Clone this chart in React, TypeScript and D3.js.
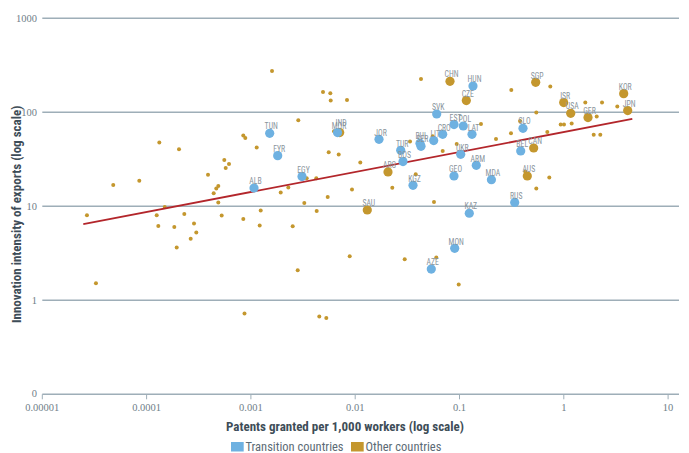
import React from 'react';
import * as d3 from 'd3';

// Transition countries (blue)
const transitionCodes = ['TUN', 'FYR', 'EGY', 'ALB', 'MOR', 'JOR', 'TUR', 'BOS', 'KGZ', 'SVK', 'BUL', 'SER', 'LIT', 'CRO', 'HUN', 'EST', 'POL', 'LAT', 'UKR', 'ARM', 'GEO', 'MDA', 'SLO', 'BEL', 'RUS', 'KAZ', 'MON', 'AZE'];
const transitionX = [0.001514, 0.001807, 0.00309, 0.001071, 0.00677, 0.01691, 0.02731, 0.02873, 0.03583, 0.06045, 0.0418, 0.04274, 0.05656, 0.069, 0.1347, 0.08857, 0.1087, 0.1318, 0.1027, 0.1449, 0.08857, 0.2023, 0.4062, 0.3862, 0.3383, 0.1241, 0.08995, 0.05364];
const transitionY = [59.8, 34.6, 20.7, 15.65, 60.8, 51.6, 39.4, 29.9, 16.7, 95.9, 46.8, 43.5, 50.0, 58.3, 190, 74.0, 71.5, 58.3, 35.7, 27.3, 21.0, 19.2, 67.6, 38.8, 11.0, 8.43, 3.57, 2.15];

// Other countries, labelled (gold)
const otherCodes = ['IND', 'ARG', 'SAU', 'CHN', 'CZE', 'SGP', 'ISR', 'USA', 'GER', 'KOR', 'JPN', 'CAN', 'AUS'];
const otherX = [0.0071, 0.02063, 0.01306, 0.08107, 0.1162, 0.5377, 0.9977, 1.165, 1.706, 3.752, 4.1, 0.5144, 0.4469];
const otherY = [60.8, 23.2, 9.13, 213.7, 133.2, 208.5, 126.9, 97.6, 87.8, 158, 104.3, 41.7, 21.0];

// Other countries, unlabelled (small gold dots)
const minorX = [2.68e-5, 3.27e-5, 4.79e-5, 8.51e-5, 1.25e-4, 1.295e-4, 1.324e-4, 1.492e-4, 1.843e-4, 1.944e-4, 2.045e-4, 2.298e-4, 2.647e-4, 2.848e-4, 2.996e-4, 3.879e-4, 4.398e-4, 4.658e-4, 4.868e-4, 4.868e-4, 5.248e-4, 5.559e-4, 5.734e-4, 6.166e-4, 8.455e-4, 8.837e-4, 8.455e-4, 8.682e-4, 1.137e-3, 1.242e-3, 1.214e-3, 1.594e-3, 1.931e-3, 2.284e-3, 2.516e-3, 2.81e-3, 2.847e-3, 3.251e-3, 3.428e-3, 4.236e-3, 4.274e-3, 4.527e-3, 4.913e-3, 5.284e-3, 5.45e-3, 5.571e-3, 5.772e-3, 5.823e-3, 6.264e-3, 6.948e-3, 8.345e-3, 8.857e-3, 9.317e-3, 0.01119, 0.02268, 0.02983, 0.03354, 0.03803, 0.04274, 0.05534, 0.05694, 0.05992, 0.069, 0.09402, 0.09825, 0.1607, 0.2239, 0.3138, 0.3117, 0.3803, 0.4274, 0.5449, 0.5449, 0.6948, 0.7261, 0.7423, 0.9339, 1.004, 1.19, 1.607, 1.935, 2.068, 2.238, 2.325, 3.258];
const minorY = [8.02, 1.52, 16.85, 18.7, 8.02, 6.17, 47.6, 9.83, 6.02, 3.64, 40.4, 8.28, 4.53, 6.55, 5.25, 21.7, 13.75, 15.43, 16.44, 10.95, 7.96, 31.1, 25.6, 28.2, 56.5, 53.3, 7.33, 0.722, 42.1, 9.0, 6.23, 275, 14.0, 15.85, 6.13, 2.085, 82.2, 10.84, 19.86, 19.86, 8.91, 0.671, 164.4, 0.648, 12.56, 37.5, 159.3, 133.2, 62.8, 35.5, 135.2, 2.94, 15.06, 29.2, 15.8, 2.73, 48.8, 21.9, 226, 55.5, 11.1, 2.85, 38.8, 46.0, 1.47, 75.1, 52.0, 172.7, 59.8, 80.8, 23.3, 99.3, 15.43, 61.7, 20.2, 187.7, 74.0, 74.0, 75.8, 126.9, 57.6, 90.0, 57.6, 126.9, 115];

// Fitted trend line end points
const trendX = [2.472e-5, 4.539];
const trendY = [6.48, 84.9];

const xTicks = [0.00001, 0.0001, 0.001, 0.01, 0.1, 1, 10];
const xTickLabels = ['0.00001', '0.0001', '0.001', '0.01', '0.1', '1', '10'];
const yTicks = [1000, 100, 10, 1];
const yTickLabels = ['1000', '100', '10', '1'];
const yBottom = 0.1;
const yBottomLabel = '0';

const legendItems = ['Transition countries', 'Other countries'];

const BLUE = '#6eb1e1';
const GOLD = '#c4972e';
const GRID = '#9eaeb8';
const LABEL = '#89949c';
const TITLE = '#3e4d58';
const COND = '"Liberation Sans Narrow", "Roboto Condensed", "Arial Narrow", Roboto, sans-serif';
const SERIF = '"Liberation Serif", "DejaVu Serif", serif';

const labelDy: Record<string, number> = { IND: -3 };

export default function App() {
  const W = 689;
  const H = 453;
  const x = d3.scaleLog().domain([1e-5, 10]).range([42.3, 668.1]);
  const y = d3.scaleLog().domain([0.1, 1000]).range([394.3, 18.3]);
  const right = 679;
  const line = d3
    .line<number>()
    .x((d) => x(trendX[d]))
    .y((d) => y(trendY[d]));

  const pts = [
    ...otherCodes.map((c, i) => ({ c, x: otherX[i], y: otherY[i], col: GOLD })),
    ...transitionCodes.map((c, i) => ({ c, x: transitionX[i], y: transitionY[i], col: BLUE })),
  ];

  return (
    <svg width={W} height={H} style={{ position: 'absolute', left: 0, top: 0, background: '#fff' }}>
      {/* grid lines */}
      {yTicks.map((t, i) => (
        <g key={'yg' + i}>
          <line x1={x(1e-5)} x2={right} y1={y(t)} y2={y(t)} stroke={GRID} strokeWidth={1.4} />
          <text x={37} y={y(t) + 3.5} textAnchor="end" fontFamily={SERIF} fontSize={10.5} fill="#6f7e88">
            {yTickLabels[i]}
          </text>
        </g>
      ))}
      {/* bottom axis */}
      <line x1={x(1e-5)} x2={right} y1={y(yBottom)} y2={y(yBottom)} stroke={GRID} strokeWidth={1.4} />
      <text x={37} y={y(yBottom) + 3} textAnchor="end" fontFamily={SERIF} fontSize={10.5} fill="#6f7e88">
        {yBottomLabel}
      </text>
      {xTicks.map((t, i) => (
        <g key={'xt' + i}>
          <line x1={x(t)} x2={x(t)} y1={y(yBottom)} y2={y(yBottom) + 5} stroke={GRID} strokeWidth={1} />
          <text x={x(t)} y={y(yBottom) + 17} textAnchor="middle" fontFamily={SERIF} fontSize={10.5} fill="#6f7e88">
            {xTickLabels[i]}
          </text>
        </g>
      ))}

      {/* minor dots */}
      {minorX.map((v, i) => (
        <circle key={'m' + i} cx={x(v)} cy={y(minorY[i])} r={2} fill={GOLD} />
      ))}

      {/* trend line */}
      <path d={line([0, 1]) || ''} fill="none" stroke="#b3262b" strokeWidth={1.8} />

      {/* labelled points */}
      {pts.map((p, i) => (
        <circle key={'p' + i} cx={x(p.x)} cy={y(p.y)} r={4.6} fill={p.col} />
      ))}
      {pts.map((p, i) => (
        <text
          key={'l' + i}
          transform={`translate(${x(p.x) + 1.5},${y(p.y) - 3.8 + (labelDy[p.c] || 0)}) scale(0.86,1)`}
          textAnchor="middle"
          fontFamily={COND}
          fontSize={9}
          fill={LABEL}
        >
          {p.c}
        </text>
      ))}

      {/* axis titles */}
      <text
        transform={`translate(21,${(y(1000) + y(0.1)) / 2 + 8}) rotate(-90)`}
        textAnchor="middle"
        fontFamily={COND}
        fontWeight="bold"
        fontSize={13}
        fill={TITLE}
      >
        Innovation intensity of exports (log scale)
      </text>
      <text x={345} y={431} textAnchor="middle" fontFamily={COND} fontWeight="bold" fontSize={13} fill={TITLE}>
        Patents granted per 1,000 workers (log scale)
      </text>

      {/* legend */}
      <rect x={231} y={442} width={12.7} height={9.5} fill={BLUE} />
      <text x={245.5} y={451} fontFamily={COND} fontSize={12.5} fill="#5c6b75">
        {legendItems[0]}
      </text>
      <rect x={351} y={442} width={12.7} height={9.5} fill={GOLD} />
      <text x={365.5} y={451} fontFamily={COND} fontSize={12.5} fill="#5c6b75">
        {legendItems[1]}
      </text>
    </svg>
  );
}
